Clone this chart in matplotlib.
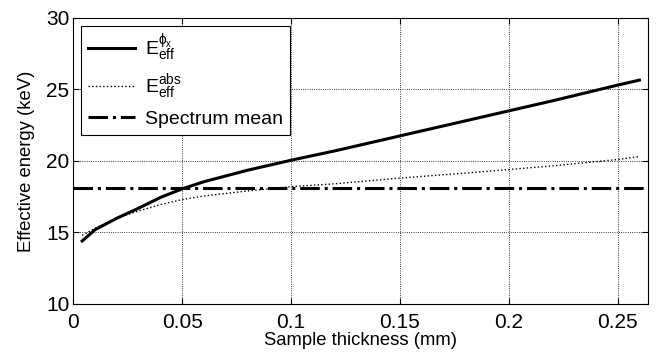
import matplotlib
matplotlib.use('Agg')
import matplotlib.pyplot as plt

plt.rcParams['font.family'] = ['Liberation Sans', 'DejaVu Sans']
plt.rcParams['mathtext.fontset'] = 'custom'
plt.rcParams['mathtext.rm'] = 'Liberation Sans'
plt.rcParams['mathtext.it'] = 'Liberation Sans'

# sample thickness (mm)
thickness = [0.004, 0.01, 0.02, 0.03, 0.04, 0.05, 0.06, 0.08, 0.1, 0.12, 0.15, 0.18, 0.2, 0.22, 0.25, 0.26]
# effective energy, phi_x weighted
e_phi = [14.4, 15.2, 16.0, 16.7, 17.45, 18.05, 18.55, 19.35, 20.05, 20.7, 21.75, 22.8, 23.5, 24.2, 25.3, 25.65]
# effective energy, absorbed
e_abs = [14.8, 15.3, 16.0, 16.5, 16.95, 17.3, 17.55, 17.9, 18.2, 18.4, 18.8, 19.15, 19.4, 19.65, 20.1, 20.3]
spectrum_mean = 18.1

fig = plt.figure(figsize=(6.56, 3.58), dpi=100)
ax = fig.add_axes([0.112, 0.151, 0.876, 0.799])

ax.plot(thickness, e_phi, 'k-', lw=2.2, label=r'$\mathregular{E_{eff}^{\phi_x}}$')
ax.plot(thickness, e_abs, 'k:', lw=1.0, label=r'$\mathregular{E_{eff}^{abs}}$')
ax.axhline(spectrum_mean, color='k', ls='-.', lw=2.2, label='Spectrum mean')

ax.set_xlim(0, 0.264)
ax.set_ylim(10, 30)
ax.set_xticks([0, 0.05, 0.1, 0.15, 0.2, 0.25])
ax.set_xticklabels(['0', '0.05', '0.1', '0.15', '0.2', '0.25'])
ax.set_yticks([10, 15, 20, 25, 30])
ax.grid(True, color='k', ls=':', lw=0.6)
ax.tick_params(direction='in', labelsize=15, top=True, right=True, length=4)
ax.tick_params(axis='x', pad=6.5)
ax.tick_params(axis='y', pad=3)
for s in ax.spines.values():
    s.set_linewidth(0.8)

ax.set_xlabel('Sample thickness (mm)', fontsize=13.3, labelpad=0)
ax.set_ylabel('Effective energy (keV)', fontsize=13.3, labelpad=8)

leg = ax.legend(loc='upper left', fontsize=14, fancybox=False, framealpha=1,
                edgecolor='k', borderaxespad=0.4, handlelength=2.4,
                handletextpad=0.55, labelspacing=0.45, borderpad=0.35)
leg.get_frame().set_linewidth(0.8)

fig.savefig('out.png', dpi=100)
